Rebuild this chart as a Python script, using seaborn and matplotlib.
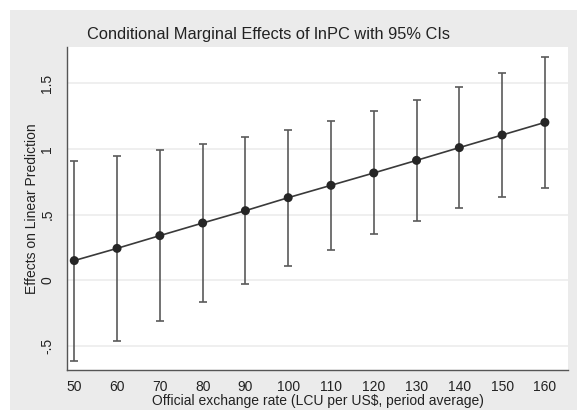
import numpy as np
import pandas as pd
import matplotlib
matplotlib.use('Agg')
import matplotlib.pyplot as plt
import seaborn as sns
from matplotlib.patches import Rectangle

# データ
exchange_rate = [50, 60, 70, 80, 90, 100, 110, 120, 130, 140, 150, 160]
effect = [0.150, 0.243, 0.340, 0.436, 0.530, 0.629, 0.723, 0.817, 0.913, 1.010, 1.106, 1.202]
ci_lower = [-0.614, -0.459, -0.310, -0.165, -0.025, 0.107, 0.234, 0.350, 0.454, 0.548, 0.632, 0.702]
ci_upper = [0.911, 0.949, 0.995, 1.037, 1.091, 1.147, 1.212, 1.289, 1.375, 1.469, 1.581, 1.700]
y_ticks = [-0.5, 0, 0.5, 1, 1.5]
y_tick_labels = ['-.5', '0', '.5', '1', '1.5']

df = pd.DataFrame({'x': exchange_rate, 'y': effect, 'lo': ci_lower, 'hi': ci_upper})

sns.set_style('white')
plt.rcParams['font.family'] = ['Liberation Sans', 'DejaVu Sans']

fig = plt.figure(figsize=(5.77, 4.17), dpi=100)
fig.patch.set_facecolor('white')
# 外側のグレー背景
fig.patches.append(Rectangle((10 / 577, 7 / 417), 567 / 577, 400 / 417,
                             transform=fig.transFigure, facecolor='#ebebeb',
                             edgecolor='none', zorder=-10))

ax = fig.add_axes([67 / 577, 1 - 370 / 417, 501 / 577, 323 / 417])
ax.set_facecolor('white')

# 信頼区間
ax.errorbar(df['x'], df['y'], yerr=[df['y'] - df['lo'], df['hi'] - df['y']],
            fmt='none', ecolor='#5a5a5a', elinewidth=1.2, capsize=3, capthick=1.2, zorder=2)
sns.lineplot(data=df, x='x', y='y', ax=ax, color='#3a3a3a', linewidth=1.2, zorder=3)
sns.scatterplot(data=df, x='x', y='y', ax=ax, color='#262626', s=42, edgecolor='none', zorder=4)

ax.set_xlim(48.3, 165.4)
ax.set_ylim(-0.683, 1.776)
ax.set_xticks(exchange_rate)
ax.set_xticklabels([str(v) for v in exchange_rate], fontsize=10)
ax.set_yticks(y_ticks)
ax.set_yticklabels(y_tick_labels, fontsize=10, rotation=90, va='center')
ax.yaxis.grid(True, color='#ececec', linewidth=1.2)
ax.set_axisbelow(True)

for side in ['top', 'right']:
    ax.spines[side].set_visible(False)
for side in ['left', 'bottom']:
    ax.spines[side].set_color('#555555')
    ax.spines[side].set_linewidth(1.0)
ax.tick_params(axis='both', direction='out', length=5, width=1, color='#555555', colors='#222222')
ax.tick_params(axis='x', pad=2)
ax.tick_params(axis='y', pad=4)

ax.set_xlabel('Official exchange rate (LCU per US$, period average)', fontsize=10, labelpad=0, color='#222222')
ax.set_ylabel('Effects on Linear Prediction', fontsize=10, labelpad=1, color='#222222')

fig.text(268.5 / 577, 1 - 34 / 417, 'Conditional Marginal Effects of lnPC with 95% CIs',
         ha='center', va='center', fontsize=11.8, color='#222222')

fig.savefig('out.png', dpi=100)
